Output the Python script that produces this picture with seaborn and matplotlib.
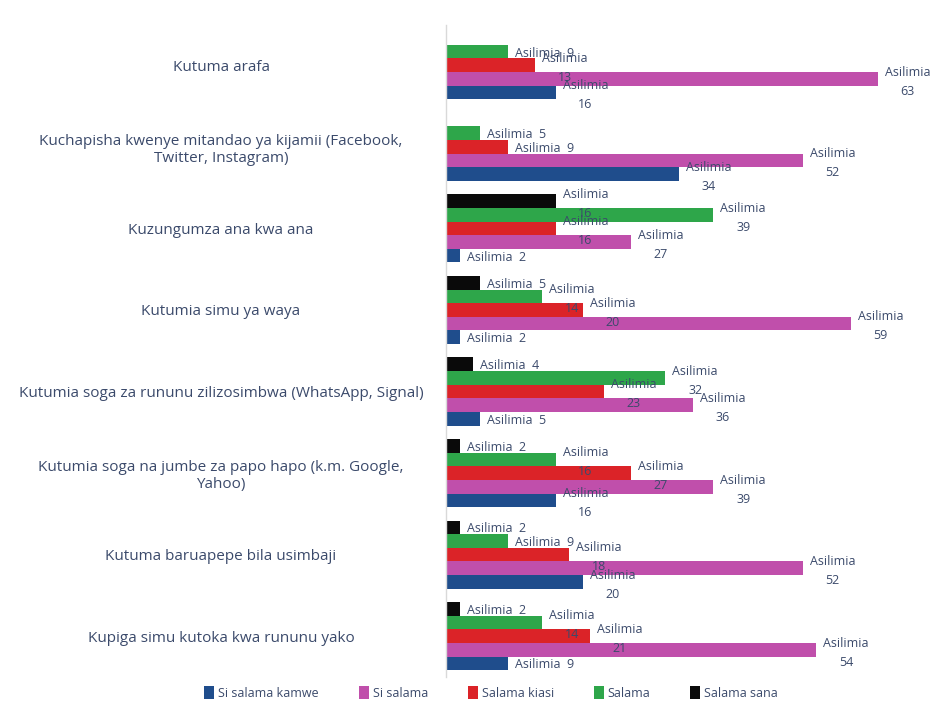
import matplotlib
matplotlib.use("Agg")
import matplotlib.pyplot as plt
import seaborn as sns
import pandas as pd
from matplotlib.patches import Patch

categories = [
    "Kutuma arafa",
    "Kuchapisha kwenye mitandao ya kijamii (Facebook,\nTwitter, Instagram)",
    "Kuzungumza ana kwa ana",
    "Kutumia simu ya waya",
    "Kutumia soga za rununu zilizosimbwa (WhatsApp, Signal)",
    "Kutumia soga na jumbe za papo hapo (k.m. Google,\nYahoo)",
    "Kutuma baruapepe bila usimbaji",
    "Kupiga simu kutoka kwa rununu yako",
]
series_names = ["Si salama kamwe", "Si salama", "Salama kiasi", "Salama", "Salama sana"]
si_salama_kamwe = [16, 34, 2, 2, 5, 16, 20, 9]
si_salama = [63, 52, 27, 59, 36, 39, 52, 54]
salama_kiasi = [13, 9, 16, 20, 23, 27, 18, 21]
salama = [9, 5, 39, 14, 32, 16, 9, 14]
salama_sana = [0, 0, 16, 5, 4, 2, 2, 2]
label_prefix = "Asilimia"

colors = {
    "Si salama kamwe": "#1f4d8c",
    "Si salama": "#c04fab",
    "Salama kiasi": "#db2328",
    "Salama": "#2ea64a",
    "Salama sana": "#0a0a0a",
}
text_color = "#3b4a6b"

sns.set_theme(style="white")
plt.rcParams['font.family'] = ['Open Sans', 'DejaVu Sans']

all_values = [si_salama_kamwe, si_salama, salama_kiasi, salama, salama_sana]
rows = []
for name, vals in zip(series_names, all_values):
    for c, v in zip(categories, vals):
        rows.append({"cat": c, "series": name, "value": v})
df = pd.DataFrame(rows)

fig = plt.figure(figsize=(9.5, 7.21), dpi=100)
ax = fig.add_axes([0.4695, 0.061, 0.5305, 0.905])
hue_order = series_names[::-1]
sns.barplot(data=df, y="cat", x="value", hue="series", hue_order=hue_order,
            order=categories, palette=colors, orient="h", width=0.835,
            saturation=1, errorbar=None, legend=False, linewidth=0, ax=ax)

ax.set_xlim(0, 73.5)
ax.set_xlabel("")
ax.set_ylabel("")
ax.set_xticks([])
for s in ["top", "right", "bottom"]:
    ax.spines[s].set_visible(False)
ax.spines["left"].set_color("#d9d9d9")
ax.spines["left"].set_linewidth(1.0)

ax.tick_params(axis="y", length=0, pad=162)
for lab in ax.get_yticklabels():
    lab.set_ha("center")
    lab.set_fontsize(11)
    lab.set_color(text_color)

for container, name in zip(ax.containers, hue_order):
    for bar in container:
        v = bar.get_width()
        if not v or v != v:
            continue
        yc = bar.get_y() + bar.get_height() / 2
        if v < 10:
            txt = f"{label_prefix}  {int(round(v))}"
            dy = -1
        else:
            txt = f"{label_prefix}\n{int(round(v))}"
            dy = -2
        ax.annotate(txt, (v, yc), xytext=(5, dy), textcoords="offset points",
                    ha="left", va="center", multialignment="center",
                    fontsize=9, color=text_color, linespacing=1.6,
                    annotation_clip=False)

handles = [Patch(facecolor=colors[n], edgecolor="none", label=n) for n in series_names]
leg = fig.legend(handles=handles, loc="center", bbox_to_anchor=(0.517, 0.039),
                 ncol=5, frameon=False, fontsize=9, handlelength=0.8,
                 handleheight=1.2, handletextpad=0.3, columnspacing=3.2)
for t in leg.get_texts():
    t.set_color(text_color)

fig.savefig("out.png", dpi=100)
